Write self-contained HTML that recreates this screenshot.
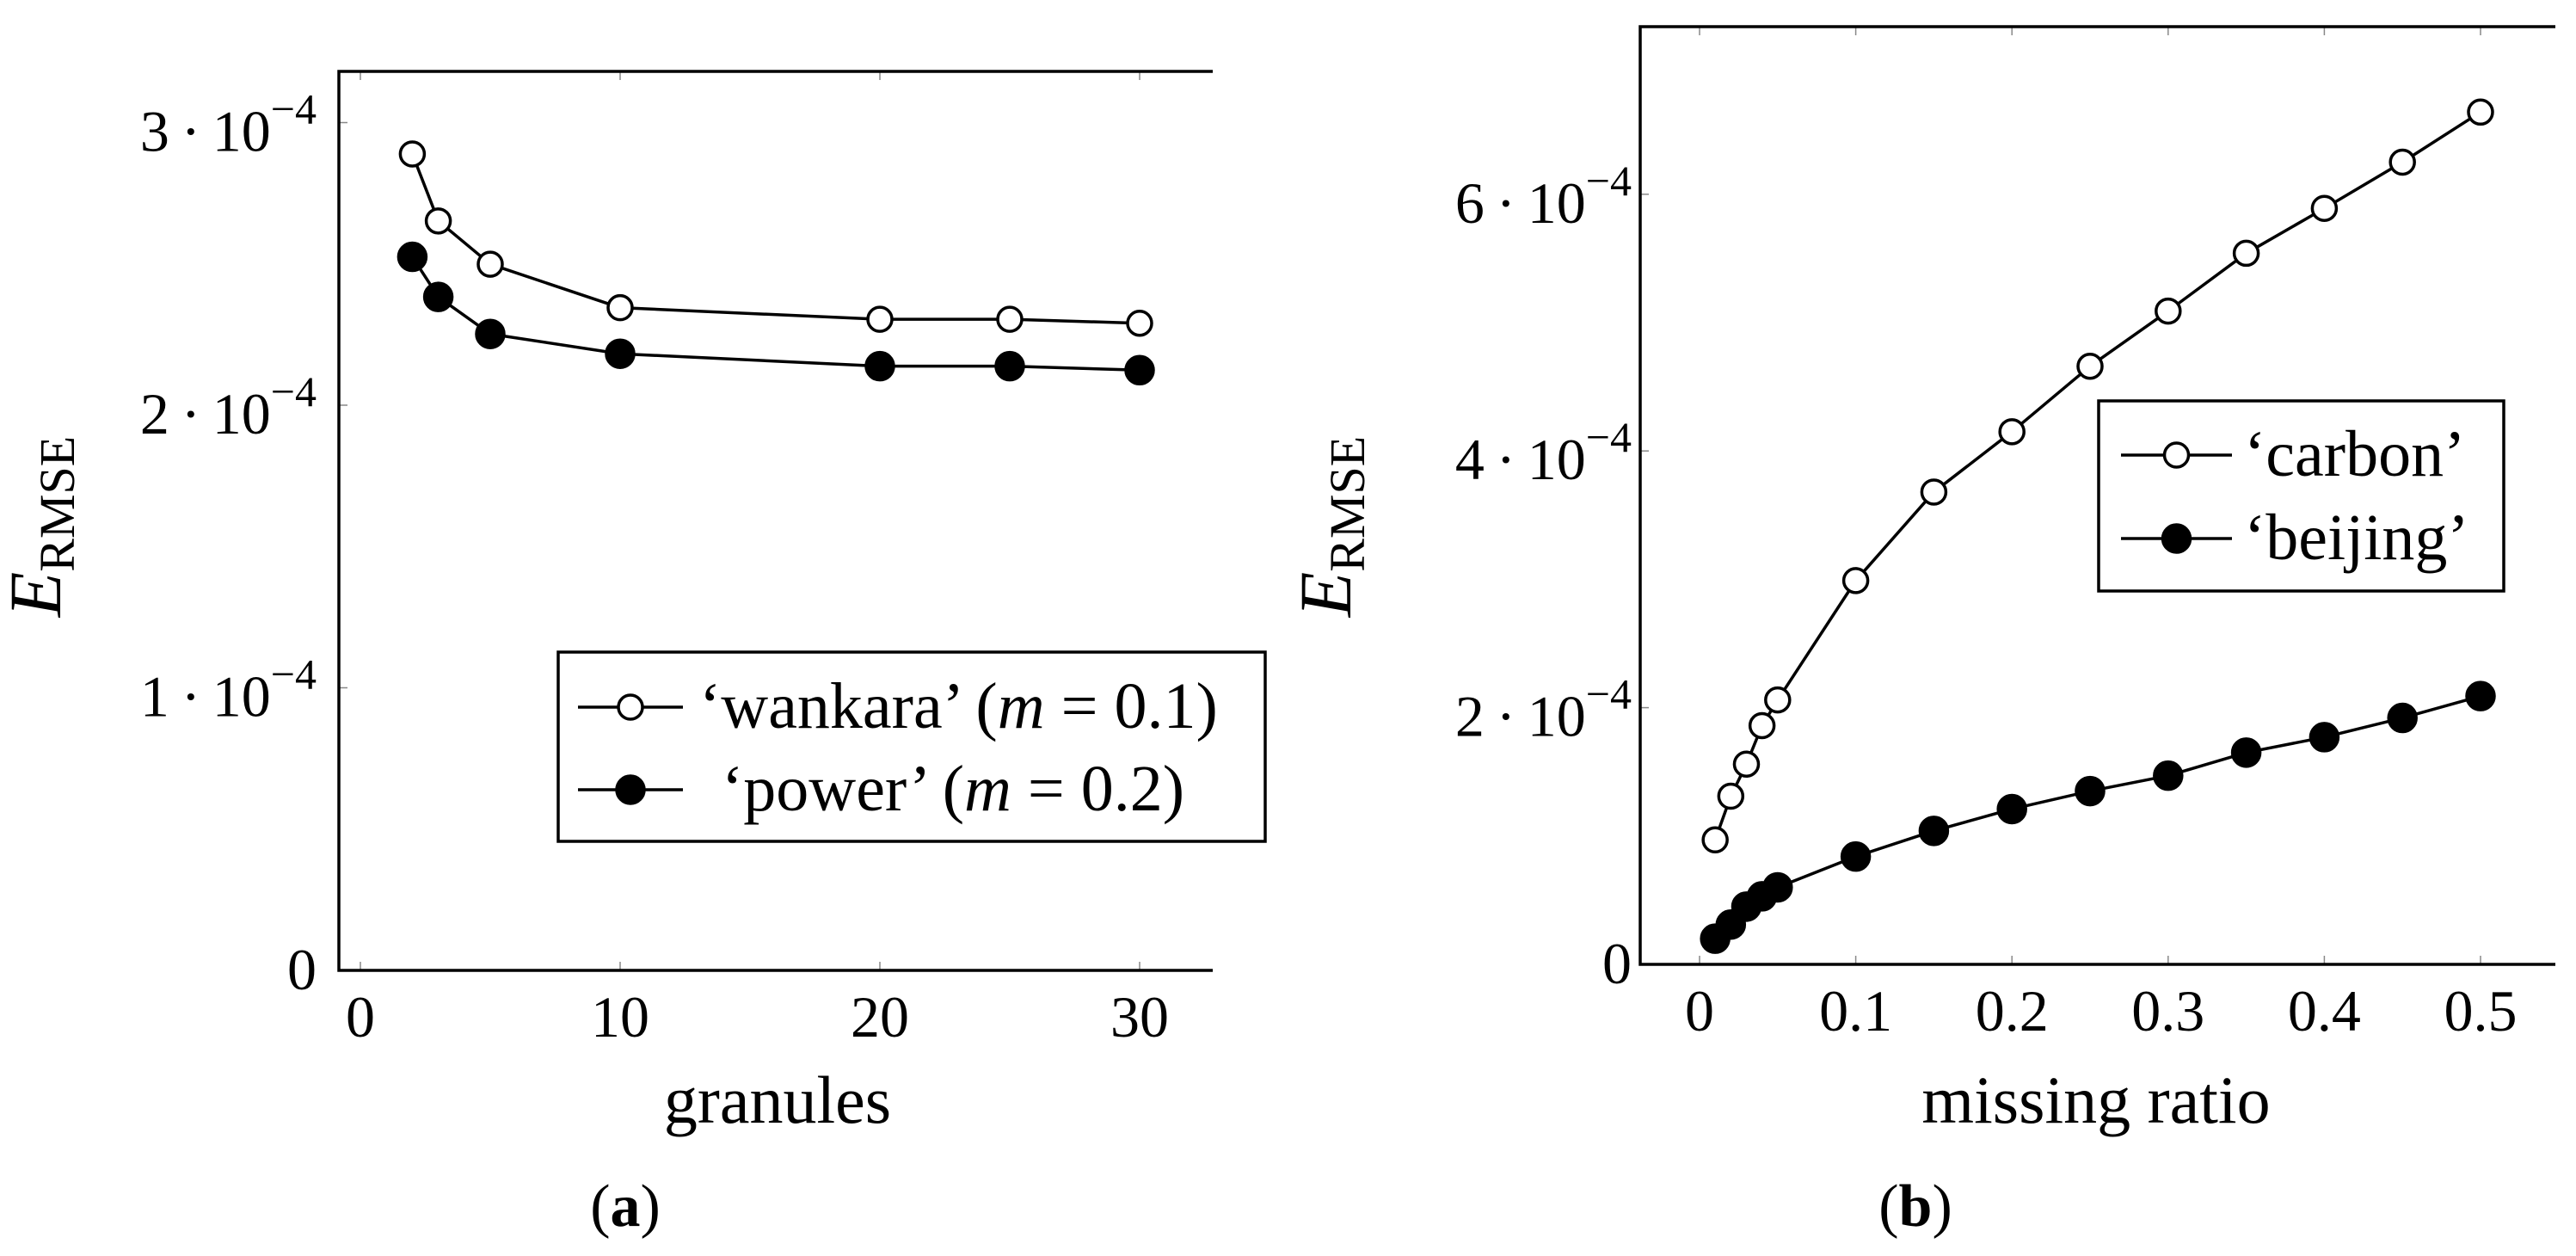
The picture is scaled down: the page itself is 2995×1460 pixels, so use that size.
<!DOCTYPE html>
<html><head><meta charset="utf-8"><style>
html,body{margin:0;padding:0;background:#fff}
svg{display:block}
text{font-family:"Liberation Serif",serif;fill:#000}
</style></head><body>
<svg id="fig" width="2995" height="1460" viewBox="0 0 2995 1460" xmlns="http://www.w3.org/2000/svg">
<g id="pa"></g>
<g id="pb"></g>
</svg>
<script>
const aX=[2,3,5,10,20,25,30];
const aWankara=[2.889,2.652,2.499,2.345,2.304,2.304,2.290];
const aPower=[2.525,2.383,2.252,2.182,2.138,2.138,2.124];
const aXTicks=[0,10,20,30];
const aYTicks=[0,1,2,3];
const bX=[0.01,0.02,0.03,0.04,0.05,0.1,0.15,0.2,0.25,0.3,0.35,0.4,0.45,0.5];
const bCarbon=[0.97,1.31,1.56,1.86,2.06,2.99,3.68,4.15,4.66,5.09,5.54,5.89,6.25,6.64];
const bBeijing=[0.20,0.31,0.45,0.53,0.60,0.84,1.04,1.21,1.35,1.47,1.65,1.77,1.92,2.09];
const bXTicks=[0,0.1,0.2,0.3,0.4,0.5];
const bXTickLabels=["0","0.1","0.2","0.3","0.4","0.5"];
const bYTicks=[0,2,4,6];

const NS="http://www.w3.org/2000/svg";
function mk(parent,tag,attrs){const e=document.createElementNS(NS,tag);for(const k in attrs)e.setAttribute(k,attrs[k]);parent.appendChild(e);return e;}

function chart(g,cfg){
  const sx=v=>cfg.x0px+(v-cfg.xmin)*cfg.xs;
  const sy=v=>cfg.y0px-v*cfg.ys;
  cfg.xticks.forEach((t,i)=>{
    const x=sx(t);
    let l=mk(g,'line',{x1:x,y1:cfg.bottom,x2:x,y2:cfg.bottom-10,stroke:'#888','stroke-width':1.5});
    
    
    l=mk(g,'line',{x1:x,y1:cfg.top,x2:x,y2:cfg.top+10,stroke:'#888','stroke-width':1.5});
    
    
    const tx=mk(g,'text',{x:x,y:cfg.bottom+77,'font-size':68,'text-anchor':'middle'});
    tx.textContent=cfg.xlabels[i];
    
    
  });
  cfg.yticks.forEach(t=>{
    const y=sy(t);
    const l=mk(g,'line',{x1:cfg.left,y1:y,x2:cfg.left+10,y2:y,stroke:'#888','stroke-width':1.5});
    
    
    const tx=mk(g,'text',{x:cfg.labelRight,y:y+(t===0?22:33),'font-size':68,'text-anchor':'end'});
    
    
    if(t===0){tx.textContent='0';}
    else{
      const a=mk(tx,'tspan',{});a.textContent=t+'\u2009·\u200910';
      const b=mk(tx,'tspan',{dy:-32,'font-size':50});b.textContent='\u22124';
    }
  });
  const ax=mk(g,'path',{d:`M${cfg.right},${cfg.top} H${cfg.left} V${cfg.bottom} H${cfg.right}`,fill:'none',stroke:'#000','stroke-width':3.5});
  
  
  cfg.series.forEach(s=>{
    const pts=cfg.xs_data.map((v,i)=>sx(v)+','+sy(s.vals[i])).join(' ');
    const pl=mk(g,'polyline',{points:pts,fill:'none',stroke:'#000','stroke-width':3.5,'stroke-linejoin':'round'});
    
    
    cfg.xs_data.forEach((v,i)=>{
      const c=mk(g,'circle',{cx:sx(v),cy:sy(s.vals[i]),r:s.filled?16:14,fill:s.filled?'#000':'#fff',stroke:'#000','stroke-width':3.5});
      
      
    });
  });
  const L=cfg.legend;
  const lg=mk(g,'g',{});
  
  
  mk(lg,'rect',{x:L.x,y:L.y,width:L.w,height:L.h,fill:'#fff',stroke:'#000','stroke-width':3.5});
  cfg.series.forEach((s,i)=>{
    const ry=L.rows[i];
    const e=mk(lg,'g',{});
    
    
    mk(e,'line',{x1:L.l1,y1:ry,x2:L.l2,y2:ry,stroke:'#000','stroke-width':3.5});
    mk(e,'circle',{cx:(L.l1+L.l2)/2,cy:ry,r:s.filled?16:14,fill:s.filled?'#000':'#fff',stroke:'#000','stroke-width':3.5});
    const t=mk(e,'text',{x:L.tx+(s.indent||0),y:ry+24,'font-size':76});
    s.label.forEach(p=>{const sp=mk(t,'tspan',p.it?{'font-style':'italic'}:{});sp.textContent=p.t;});
  });
  const xl=mk(g,'text',{x:cfg.xlabelX,y:1305,'font-size':78,'text-anchor':'middle'});
  xl.textContent=cfg.xlabel;
  
  
  const yl=mk(g,'text',{transform:`translate(${cfg.ylabelX},612) rotate(-90)`,'text-anchor':'middle','font-size':86});
  
  
  const e1=mk(yl,'tspan',{'font-style':'italic'});e1.textContent='E';
  const e2=mk(yl,'tspan',{'font-size':58,dy:16});e2.textContent='RMSE';
  const cap=mk(g,'text',{x:cfg.capX,y:1425,'font-size':70,'text-anchor':'middle','font-family':'Liberation Sans, sans-serif'});
  
  
  const c1=mk(cap,'tspan',{'font-family':'Liberation Serif, serif'});c1.textContent='(';
  const c2=mk(cap,'tspan',{'font-weight':'bold'});c2.textContent=cfg.cap;
  const c3=mk(cap,'tspan',{'font-family':'Liberation Serif, serif'});c3.textContent=')';
}

chart(document.getElementById('pa'),{
  left:394,right:1410,top:83,bottom:1128,xmin:0,x0px:419,xs:30.2,y0px:1128,ys:328.5,
  xticks:aXTicks,xlabels:aXTicks.map(String),yticks:aYTicks,labelRight:368,
  xs_data:aX,
  series:[
    {name:'wankara',vals:aWankara,filled:false,label:[{t:'‘wankara’ ('},{t:'m',it:true},{t:' = 0.1)'}]},
    {name:'power',vals:aPower,filled:true,indent:26,label:[{t:'‘power’ ('},{t:'m',it:true},{t:' = 0.2)'}]}
  ],
  legend:{x:649,y:758,w:822,h:220,l1:672,l2:794,tx:813,rows:[822,918]},
  xlabel:'granules',xlabelX:904,ylabelX:70,capX:727,cap:'a'
});
chart(document.getElementById('pb'),{
  left:1907,right:2971,top:31,bottom:1121,xmin:0,x0px:1976,xs:1816,y0px:1121,ys:149.2,
  xticks:bXTicks,xlabels:bXTickLabels,yticks:bYTicks,labelRight:1897,
  xs_data:bX,
  series:[
    {name:'carbon',vals:bCarbon,filled:false,label:[{t:'‘carbon’'}]},
    {name:'beijing',vals:bBeijing,filled:true,label:[{t:'‘beijing’'}]}
  ],
  legend:{x:2440,y:466,w:471,h:221,l1:2466,l2:2595,tx:2609,rows:[529,626]},
  xlabel:'missing ratio',xlabelX:2437,ylabelX:1570,capX:2227,cap:'b'
});
</script>
</body></html>
